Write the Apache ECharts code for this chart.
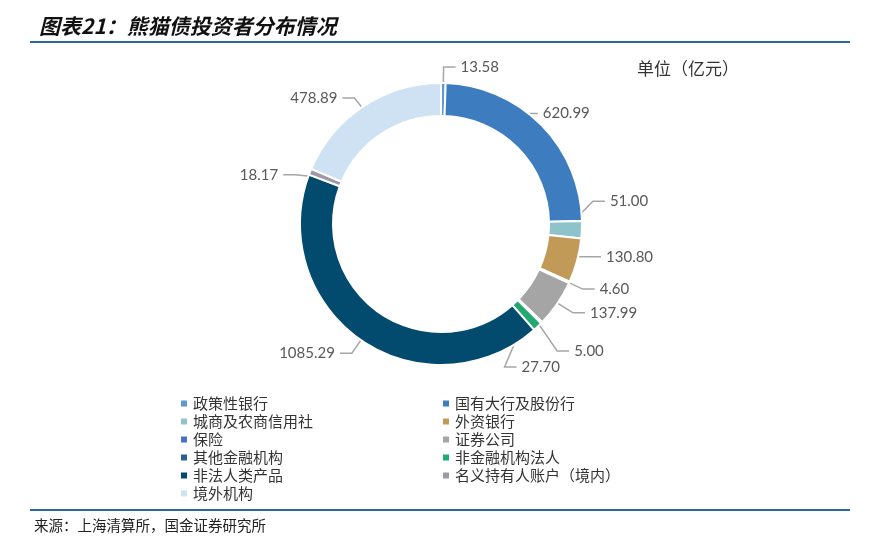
<!DOCTYPE html>
<html><head><meta charset="utf-8">
<script src="https://cdn.jsdelivr.net/npm/echarts@6/dist/echarts.min.js"></script>
<style>html,body{margin:0;padding:0;background:#fff}#c{width:880px;height:550px}</style>
</head><body><div id="c"></div>
<script>
const categories = ['政策性银行','国有大行及股份行','城商及农商信用社','外资银行','保险','证券公司','其他金融机构','非金融机构法人','非法人类产品','名义持有人账户（境内）','境外机构'];
const values = [13.58, 620.99, 51.00, 130.80, 4.60, 137.99, 5.00, 27.70, 1085.29, 18.17, 478.89];
const colors = ['#5B9BD5','#3D7DBF','#8EC3CB','#C09A56','#4472C4','#A5A5A5','#2E5E95','#21A971','#024B6E','#9E98A8','#CFE2F3'];

// label nudges (style only)
const labelNudge = {1:[-22,0], 2:[0,-29], 3:[0,-8], 6:[-4,17], 7:[-44,16], 9:[0,9], 10:[0,5]};

const chart = echarts.init(document.getElementById('c'));
const ringData = categories.map((n,i)=>({name:n, value:values[i], itemStyle:{color:colors[i]}}));
const labelData = categories.map((n,i)=>({name:n, value:values[i]}));
const center = [441, 224];
const legendText = {fontFamily:'Noto Sans CJK SC', fontSize:15, color:'#333'};
chart.setOption({
  animation:false,
  title:{text:'图表21：熊猫债投资者分布情况', left:34, top:11,
    textStyle:{fontFamily:'Noto Sans CJK SC', fontSize:21, fontWeight:'bold', fontStyle:'italic', color:'#111'}},
  legend:[
    {data:categories.filter((_,i)=>i%2===0), orient:'vertical', left:174, top:391, itemGap:3,
     icon:'rect', itemWidth:8, itemHeight:8, textStyle:legendText, selectedMode:false},
    {data:categories.filter((_,i)=>i%2===1), orient:'vertical', left:436, top:391, itemGap:3,
     icon:'rect', itemWidth:8, itemHeight:8, textStyle:legendText, selectedMode:false}
  ],
  graphic:[
    {type:'line', shape:{x1:30,y1:42,x2:850,y2:42}, style:{stroke:'#2A6A97', lineWidth:2}},
    {type:'line', shape:{x1:30,y1:510,x2:850,y2:510}, style:{stroke:'#2A6A97', lineWidth:2}},
    {type:'text', left:34, top:518, style:{text:'来源：上海清算所，国金证券研究所', font:'14.5px "Noto Sans CJK SC"', fill:'#222'}},
    {type:'text', left:637, top:60, style:{text:'单位（亿元）', font:'17px "Noto Sans CJK SC"', fill:'#333'}}
  ],
  series:[
    {type:'pie', name:'ring', center:center, radius:[108,141], startAngle:90, clockwise:true,
     data:ringData, label:{show:false}, labelLine:{show:false},
     itemStyle:{borderColor:'#fff', borderWidth:2}, silent:true, minAngle:0, avoidLabelOverlap:false},
    {type:'pie', name:'labels', center:center, radius:[0,125], startAngle:90, clockwise:true,
     data:labelData, silent:true, itemStyle:{color:'rgba(0,0,0,0)'}, legendHoverLink:false,
     label:{show:true, formatter:p=>p.value.toFixed(2), fontFamily:'Lato', fontSize:15, color:'#595959'},
     labelLine:{show:true, length:32, length2:12, lineStyle:{color:'#A6A6A6', width:1.5}},
     labelLayout:function(p){
       const n = labelNudge[p.dataIndex];
       if(!n || !p.labelLinePoints) return {};
       const pts = p.labelLinePoints;
       return {dx:n[0], dy:n[1], labelLinePoints:[pts[0], [pts[1][0]+n[0], pts[1][1]+n[1]], [pts[2][0]+n[0], pts[2][1]+n[1]]]};
     },
     avoidLabelOverlap:true}
  ]
});
</script></body></html>
